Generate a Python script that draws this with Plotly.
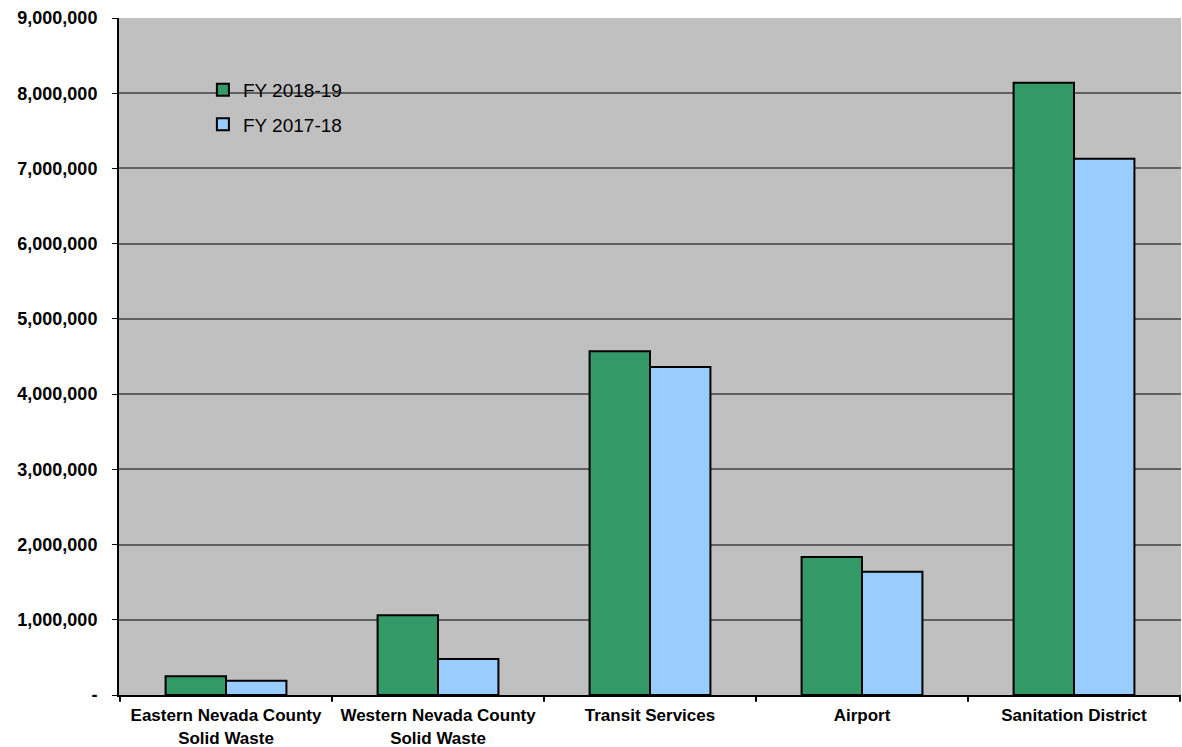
import plotly.graph_objects as go

categories = ["Eastern Nevada County<br>Solid Waste", "Western Nevada County<br>Solid Waste",
              "Transit Services", "Airport", "Sanitation District"]
fy1819 = [250000, 1060000, 4570000, 1835000, 8140000]
fy1718 = [190000, 480000, 4360000, 1640000, 7130000]
tick_vals = [0, 1000000, 2000000, 3000000, 4000000, 5000000, 6000000, 7000000, 8000000, 9000000]
tick_text = ["-", "1,000,000", "2,000,000", "3,000,000", "4,000,000", "5,000,000",
             "6,000,000", "7,000,000", "8,000,000", "9,000,000"]

fig = go.Figure()
fig.add_bar(x=categories, y=fy1819, name="FY 2018-19", legendgroup="a",
            marker=dict(color="#339966", line=dict(color="black", width=2)))
fig.add_bar(x=categories, y=fy1718, name="FY 2017-18", legendgroup="b",
            marker=dict(color="#99CCFF", line=dict(color="black", width=2)))

fig.update_layout(
    width=1182, height=747,
    margin=dict(l=119, r=1, t=18, b=52),
    paper_bgcolor="white", plot_bgcolor="#C0C0C0",
    barmode="group", bargap=0.43, bargroupgap=0,
    font=dict(family="Liberation Sans, Arial, sans-serif", color="black"),
    legend=dict(x=0.079, y=0.922, xanchor="left", yanchor="top",
                bgcolor="rgba(0,0,0,0)", font=dict(size=19),
                traceorder="grouped", tracegroupgap=7, itemwidth=30),
    showlegend=True,
)
fig.update_xaxes(showgrid=False, showline=True, linecolor="black", linewidth=2,
                 ticks="outside", ticklen=0, ticklabelstandoff=4, automargin=False,
                 tickfont=dict(size=17, family="Liberation Sans, Arial, sans-serif", weight="bold"))
fig.update_yaxes(range=[0, 9000000], tickvals=tick_vals, ticktext=tick_text,
                 showgrid=True, gridcolor="#606060", gridwidth=1.5,
                 showline=True, linecolor="black", linewidth=2,
                 ticks="outside", ticklen=5, tickcolor="black", ticklabelstandoff=11,
                 zeroline=False, automargin=False,
                 tickfont=dict(size=18, family="Liberation Sans, Arial, sans-serif", weight="bold"))

# category boundary tick marks on x axis
n = len(categories)
for i in range(n + 1):
    fig.add_shape(type="line", xref="x", yref="paper", x0=i - 0.5, x1=i - 0.5,
                  y0=0, y1=-0.01, line=dict(color="black", width=2))

fig.write_html("out.html")
